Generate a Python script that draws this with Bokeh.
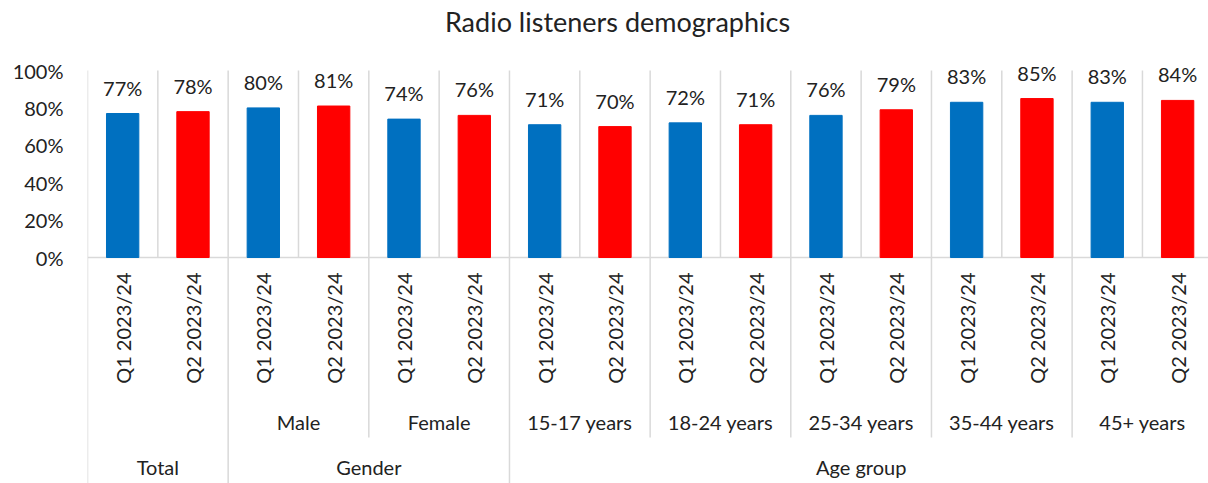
from bokeh.plotting import figure
from bokeh.models import Range1d, FixedTicker, NumeralTickFormatter, ColumnDataSource
from bokeh.core.properties import value
from bokeh.embed import file_html
from bokeh.resources import INLINE

# ---- data -------------------------------------------------------------
title = "Radio listeners demographics"
groups = ["Total", "Gender", "Age group"]
subgroups = [
    [""],
    ["Male", "Female"],
    ["15-17 years", "18-24 years", "25-34 years", "35-44 years", "45+ years"],
]
quarters = ["Q1 2023/24", "Q2 2023/24"]
q1_share = [0.77, 0.80, 0.74, 0.71, 0.72, 0.76, 0.83, 0.83]
q2_share = [0.78, 0.81, 0.76, 0.70, 0.71, 0.79, 0.85, 0.84]
y_ticks = [0, 0.2, 0.4, 0.6, 0.8, 1.0]

# ---- layout constants (pixels) ---------------------------------------
W, H = 1208, 483
LEFT = 87            # left edge of the plotting frame
BASE_PX = 257        # screen row of the 0% line
PX_PER_UNIT_Y = 187  # pixels for 100%
PX_PER_CAT = 70.33   # pixels per category slot
FONT = "Lato"
GRID = "#d9d9d9"
TEXT = "#222222"
BLUE = "#0070C0"
RED = "#FF0000"


def y_at(px):
    """Data y for a screen row."""
    return (BASE_PX - px) / PX_PER_UNIT_Y


def x_at(px):
    """Data x for a screen column."""
    return (px - LEFT) / PX_PER_CAT


p = figure(
    width=W, height=H,
    output_backend="svg", toolbar_location=None,
    x_range=Range1d(0, x_at(W)), y_range=Range1d(y_at(H), y_at(0)),
    min_border_left=LEFT, min_border_right=0, min_border_top=0, min_border_bottom=0,
    outline_line_color=None, x_axis_location=None,
)
p.xgrid.visible = False
p.ygrid.visible = False

# y axis: percent labels only
ax = p.yaxis[0]
ax.ticker = FixedTicker(ticks=y_ticks)
ax.formatter = NumeralTickFormatter(format="0%")
ax.axis_line_color = None
ax.major_tick_line_color = None
ax.minor_tick_line_color = None
ax.major_tick_in = 0
ax.major_tick_out = 0
ax.major_label_standoff = 24
ax.major_label_text_font = FONT
ax.major_label_text_font_size = "20px"
ax.major_label_text_color = TEXT

# ---- flatten categories ---------------------------------------------
xs, tops, colors, qlabels = [], [], [], []
sub_centers, sub_names = [], []
grp_centers = []
sub_bounds, grp_bounds = [], [0]
i = 0
k = 0
for g, subs in zip(groups, subgroups):
    g_start = i
    for s in subs:
        s_start = i
        for qi, q in enumerate(quarters):
            xs.append(i + 0.5)
            tops.append([q1_share, q2_share][qi][k])
            colors.append([BLUE, RED][qi])
            qlabels.append(q)
            i += 1
        k += 1
        if s:
            sub_centers.append((s_start + i) / 2)
            sub_names.append(s)
        sub_bounds.append(i)
    grp_centers.append((g_start + i) / 2)
    grp_bounds.append(i)
n = i
sub_bounds = [b for b in sub_bounds if b not in grp_bounds]

src = ColumnDataSource(dict(
    x=xs, top=tops, color=colors, q=qlabels,
    label=[f"{round(t * 100)}%" for t in tops],
))

# vertical gridlines between category slots, and the 0% baseline
slots = list(range(n + 1))
p.segment(x0=slots, y0=[0] * len(slots), x1=slots, y1=[1] * len(slots),
          line_color=GRID, line_width=1.5)
p.segment(x0=[0], y0=[0], x1=[n], y1=[0], line_color=GRID, line_width=1.5)

# separators inside the category axis area
p.segment(x0=sub_bounds, y0=[0] * len(sub_bounds), x1=sub_bounds,
          y1=[y_at(437)] * len(sub_bounds), line_color=GRID, line_width=1.5)
p.segment(x0=grp_bounds, y0=[0] * len(grp_bounds), x1=grp_bounds,
          y1=[y_at(H)] * len(grp_bounds), line_color=GRID, line_width=1.5)

# bars
p.vbar(x="x", top="top", width=0.46, bottom=0, color="color", source=src)

# value labels
p.text(x="x", y="top", text="label", source=src,
       text_font=value(FONT), text_font_size="20px", text_color=TEXT,
       text_align="center", text_baseline="middle", y_offset=-26)

# quarter labels, rotated
p.text(x="x", y=0, text="q", source=src, angle=1.5708,
       text_font=value(FONT), text_font_size="20px", text_color=TEXT,
       text_align="right", text_baseline="middle", y_offset=15)

# subgroup labels
p.text(x=sub_centers, y=[0] * len(sub_centers), text=sub_names,
       text_font=value(FONT), text_font_size="20px", text_color=TEXT,
       text_align="center", text_baseline="middle", y_offset=164)

# group labels
p.text(x=grp_centers, y=[0] * len(grp_centers), text=groups,
       text_font=value(FONT), text_font_size="20px", text_color=TEXT,
       text_align="center", text_baseline="middle", y_offset=209)

# chart title
p.text(x=[x_at(617)], y=[y_at(21)], text=[title],
       text_font=value(FONT), text_font_size="27px", text_color=TEXT,
       text_align="center", text_baseline="middle")

open("out.html", "w").write(file_html(p, INLINE))
